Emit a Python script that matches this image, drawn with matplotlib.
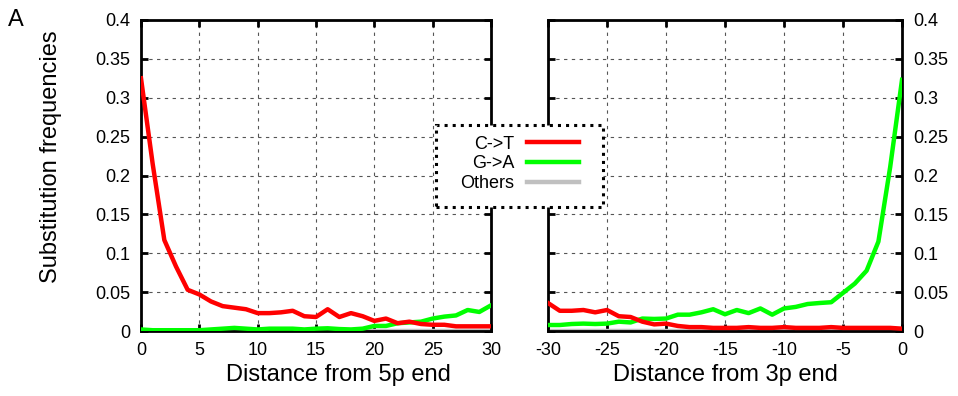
import matplotlib
matplotlib.use("Agg")
import numpy as np
import matplotlib.pyplot as plt
from matplotlib.patches import Rectangle
from matplotlib.ticker import FuncFormatter

# positions along the read
pos_5p = list(range(0, 31))
pos_3p = list(range(-30, 1))

# substitution frequencies, 5p end
ct_5p = [0.325, 0.215, 0.117, 0.083, 0.053, 0.047, 0.038, 0.032, 0.030, 0.028,
         0.023, 0.023, 0.024, 0.026, 0.019, 0.018, 0.028, 0.018, 0.023, 0.019,
         0.013, 0.016, 0.010, 0.012, 0.009, 0.008, 0.008, 0.006, 0.006, 0.006,
         0.006]
ga_5p = [0.002, 0.001, 0.001, 0.001, 0.001, 0.001, 0.002, 0.003, 0.004, 0.003,
         0.002, 0.003, 0.003, 0.003, 0.002, 0.003, 0.0035, 0.0025, 0.002, 0.003,
         0.0065, 0.0065, 0.010, 0.011, 0.012, 0.016, 0.0185, 0.020, 0.027, 0.0245,
         0.033]
oth_5p = [0.0005] * 31

# substitution frequencies, 3p end
ct_3p = [0.036, 0.026, 0.026, 0.027, 0.024, 0.027, 0.019, 0.018, 0.012, 0.0085,
         0.0095, 0.0065, 0.005, 0.005, 0.004, 0.004, 0.004, 0.005, 0.004, 0.004,
         0.005, 0.004, 0.004, 0.004, 0.005, 0.004, 0.004, 0.004, 0.004, 0.004,
         0.003]
ga_3p = [0.0077, 0.0077, 0.009, 0.0095, 0.009, 0.0095, 0.012, 0.011, 0.016, 0.0155,
         0.016, 0.021, 0.021, 0.024, 0.028, 0.0215, 0.027, 0.023, 0.029, 0.021,
         0.029, 0.031, 0.0347, 0.036, 0.037, 0.049, 0.061, 0.0776, 0.115, 0.211,
         0.323]
oth_3p = [0.0005] * 31

labels = ["C->T", "G->A", "Others"]
colors = ["#ff0000", "#00ff00", "#c0c0c0"]

plt.rcParams["font.family"] = ["Liberation Sans", "DejaVu Sans"]
plt.rcParams["axes.unicode_minus"] = False

W, H = 958, 396
fig = plt.figure(figsize=(W / 100, H / 100), dpi=100)
ax1 = fig.add_axes([141 / W, 1 - 331 / H, 350 / W, 311 / H])
ax2 = fig.add_axes([548 / W, 1 - 331 / H, 354 / W, 311 / H])

fmt = FuncFormatter(lambda v, p: "%g" % round(v, 3))
yticks = np.arange(0, 0.401, 0.05)


def style_axis(ax, xlim, xticks, xlabel, right):
    ax.set_xlim(*xlim)
    ax.set_ylim(0, 0.4)
    ax.set_xticks(xticks)
    ax.set_yticks(yticks)
    ax.yaxis.set_major_formatter(fmt)
    ax.grid(True, color="#555555", linestyle=(0, (3, 4)), linewidth=0.8)
    ax.set_axisbelow(True)
    for s in ax.spines.values():
        s.set_linewidth(2)
    ax.tick_params(direction="in", length=5, width=2, top=True, right=True,
                   left=True, bottom=True, labelsize=13, pad=8,
                   labelleft=not right, labelright=right)
    ax.set_xlabel(xlabel, fontsize=17)
    ax.xaxis.set_label_coords(0.5, -0.105)


# others drawn first, under the main series
ax1.plot(pos_5p, oth_5p, color=colors[2], lw=3.2, zorder=2, label=labels[2])
ax1.plot(pos_5p, ga_5p, color=colors[1], lw=3.2, zorder=3, label=labels[1])
ax1.plot(pos_5p, ct_5p, color=colors[0], lw=3.2, zorder=4, label=labels[0])
ax2.plot(pos_3p, oth_3p, color=colors[2], lw=3.2, zorder=2)
ax2.plot(pos_3p, ga_3p, color=colors[1], lw=3.2, zorder=3)
ax2.plot(pos_3p, ct_3p, color=colors[0], lw=3.2, zorder=4)

style_axis(ax1, (0, 30), range(0, 31, 5), "Distance from 5p end", False)
style_axis(ax2, (-30, 0), range(-30, 1, 5), "Distance from 3p end", True)
ax1.xaxis.set_label_coords(0.563, -0.105)
ax1.set_ylabel("Substitution frequencies", fontsize=17)
ax1.yaxis.set_label_coords(-0.225, 0.56)

fig.text(8 / W, 1 - 26 / H, "A", fontsize=17)

# dotted legend box
fig.patches.append(Rectangle((436 / W, 1 - 207 / H), 167 / W, 82 / H,
                             transform=fig.transFigure, facecolor="white",
                             edgecolor="black", linestyle=":", linewidth=2.2,
                             zorder=4))
h, l = ax1.get_legend_handles_labels()
order = [2, 1, 0]
leg = fig.legend([h[i] for i in order], [l[i] for i in order], loc="center",
                 bbox_to_anchor=(519.5 / W, 1 - 164 / H), frameon=False,
                 markerfirst=False, fontsize=13, handlelength=2.9,
                 handletextpad=0.7, labelspacing=0.15)
leg.set_zorder(5)

fig.savefig("out.png", dpi=100)
